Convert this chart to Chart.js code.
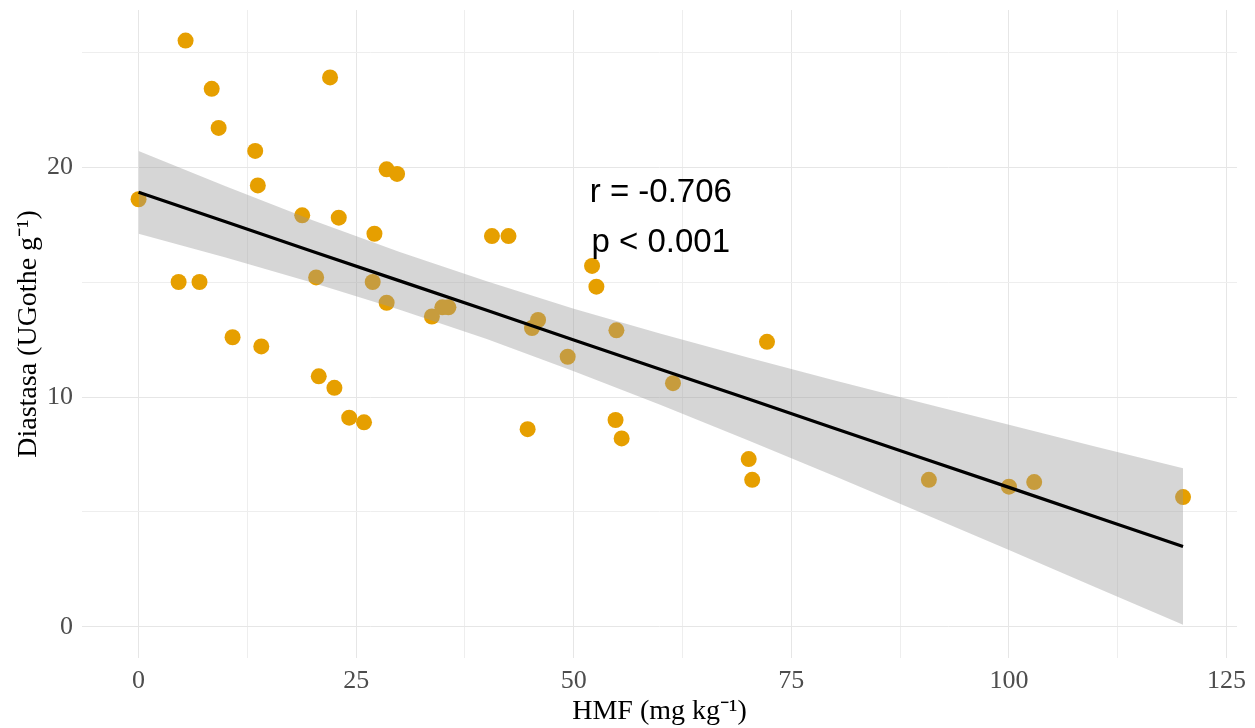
<!DOCTYPE html>
<html>
<head>
<meta charset="utf-8">
<script src="https://cdn.jsdelivr.net/npm/chart.js@4.4.1/dist/chart.umd.min.js"></script>
<style>
  html, body { margin: 0; padding: 0; background: #fff; }
  #wrap { width: 1255px; height: 728px; }
</style>
</head>
<body>
<div id="wrap"><canvas id="chart" width="1255" height="728"></canvas></div>
<script>
    // Datos: HMF vs Diastasa
    const hmf = [0, 4.6, 5.4, 7.0, 8.4, 9.2, 10.8, 13.4, 13.7, 14.1, 18.8, 20.4, 20.7, 22.0, 22.5,
        23.0, 24.2, 25.9, 26.9, 27.1, 28.5, 29.7, 28.5, 33.7, 34.9, 35.6, 40.6, 42.5, 44.7, 45.2,
        45.9, 49.3, 52.1, 52.6, 54.8, 54.9, 55.5, 61.4, 70.1, 70.5, 72.2, 90.8, 100.0, 102.9, 120.0];
    const diastasa = [18.6, 15.0, 25.5, 15.0, 23.4, 21.7, 12.6, 20.7, 19.2, 12.2, 17.9, 15.2, 10.9, 23.9, 10.4,
        17.8, 9.1, 8.9, 15.0, 17.1, 19.9, 19.7, 14.1, 13.5, 13.9, 13.9, 17.0, 17.0, 8.6, 13.0,
        13.35, 11.75, 15.7, 14.8, 9.0, 12.9, 8.2, 10.6, 7.3, 6.4, 12.4, 6.4, 6.1, 6.3, 5.65];

    // Recta de regresion y banda de confianza
    const fitX = [0, 10, 20, 30, 40, 50, 60, 70, 80, 90, 100, 110, 120];
    const fitY = [18.90, 17.62, 16.33, 15.05, 13.77, 12.48, 11.20, 9.92, 8.63, 7.35, 6.07, 4.78, 3.50];
    const ciUpper = [20.70, 19.17, 17.69, 16.31, 15.03, 13.84, 12.75, 11.72, 10.72, 9.75, 8.79, 7.84, 6.90];
    const ciLower = [17.10, 16.07, 14.97, 13.80, 12.52, 11.12, 9.65, 8.12, 6.55, 4.96, 3.35, 1.72, 0.10];

    // Ticks
    const xGrid = [0, 12.5, 25, 37.5, 50, 62.5, 75, 87.5, 100, 112.5, 125];
    const xLabels = [0, 25, 50, 75, 100, 125];
    const yGrid = [0, 5, 10, 15, 20, 25];
    const yLabels = [0, 10, 20];

    const statText = ["r = -0.706", "p < 0.001"];

    function toXY(xs, ys) {
        return xs.map((x, i) => ({ x: x, y: ys[i] }));
    }

    // texto de la correlacion
    const annotatePlugin = {
        id: "annotate",
        afterDatasetsDraw(chart) {
            const ctx = chart.ctx;
            const xs = chart.scales.x, ys = chart.scales.y;
            ctx.save();
            ctx.font = '33px "Liberation Sans", Arial, sans-serif';
            ctx.fillStyle = "#000";
            ctx.textAlign = "center";
            ctx.textBaseline = "middle";
            ctx.fillText(statText[0], xs.getPixelForValue(60), ys.getPixelForValue(18.89));
            ctx.fillText(statText[1], xs.getPixelForValue(60), ys.getPixelForValue(16.72));
            ctx.restore();
        }
    };

    const serif = '"Liberation Serif", "Times New Roman", serif';

    new Chart(document.getElementById("chart"), {
        type: "scatter",
        data: {
            datasets: [
                {
                    label: "ajuste",
                    data: toXY(fitX, fitY),
                    showLine: true,
                    borderColor: "#000",
                    borderWidth: 3.2,
                    pointRadius: 0,
                    order: 1
                },
                {
                    label: "ic_sup",
                    data: toXY(fitX, ciUpper),
                    showLine: true,
                    borderWidth: 0,
                    borderColor: "rgba(0,0,0,0)",
                    pointRadius: 0,
                    fill: "+1",
                    backgroundColor: "rgba(153,153,153,0.4)",
                    order: 2
                },
                {
                    label: "ic_inf",
                    data: toXY(fitX, ciLower),
                    showLine: true,
                    borderWidth: 0,
                    borderColor: "rgba(0,0,0,0)",
                    pointRadius: 0,
                    order: 2
                },
                {
                    label: "muestras",
                    data: toXY(hmf, diastasa),
                    backgroundColor: "#E69F00",
                    borderWidth: 0,
                    pointRadius: 8,
                    order: 3
                }
            ]
        },
        options: {
            responsive: false,
            animation: false,
            devicePixelRatio: 1,
            layout: { padding: { left: 0, top: 10, right: 18, bottom: 0 } },
            plugins: {
                legend: { display: false },
                tooltip: { enabled: false }
            },
            scales: {
                x: {
                    type: "linear",
                    min: -6.5,
                    max: 126.2,
                    border: { display: false },
                    grid: {
                        drawTicks: false,
                        color: (c) => xLabels.includes(c.tick && c.tick.value) ? "#e6e6e6" : "#eeeeee",
                        lineWidth: 1
                    },
                    afterBuildTicks: (scale) => { scale.ticks = xGrid.map(v => ({ value: v })); },
                    afterFit: (scale) => { scale.height = 70; },
                    ticks: {
                        autoSkip: false,
                        maxRotation: 0,
                        padding: 8,
                        color: "#4d4d4d",
                        font: { family: serif, size: 26 },
                        callback: (v) => xLabels.includes(v) ? String(v) : ""
                    },
                    title: {
                        display: true,
                        text: "HMF (mg kg\u207B\u00B9)",
                        color: "#000",
                        font: { family: serif, size: 28 },
                        padding: { top: 0, bottom: 0 }
                    }
                },
                y: {
                    type: "linear",
                    min: -1.35,
                    max: 26.83,
                    border: { display: false },
                    grid: {
                        drawTicks: false,
                        color: (c) => yLabels.includes(c.tick && c.tick.value) ? "#e6e6e6" : "#eeeeee",
                        lineWidth: 1
                    },
                    afterBuildTicks: (scale) => { scale.ticks = yGrid.map(v => ({ value: v })); },
                    afterFit: (scale) => {
                        scale.width = 82;
                        scale.paddingTop = 0;
                        scale.paddingBottom = 0;
                    },
                    ticks: {
                        autoSkip: false,
                        padding: 9,
                        color: "#4d4d4d",
                        font: { family: serif, size: 26 },
                        callback: (v) => yLabels.includes(v) ? String(v) : ""
                    },
                    title: {
                        display: true,
                        text: "Diastasa (UGothe g\u207B\u00B9)",
                        color: "#000",
                        font: { family: serif, size: 28 },
                        padding: { top: 12, bottom: 0 }
                    }
                }
            }
        },
        plugins: [annotatePlugin]
    });
</script>
</body>
</html>
